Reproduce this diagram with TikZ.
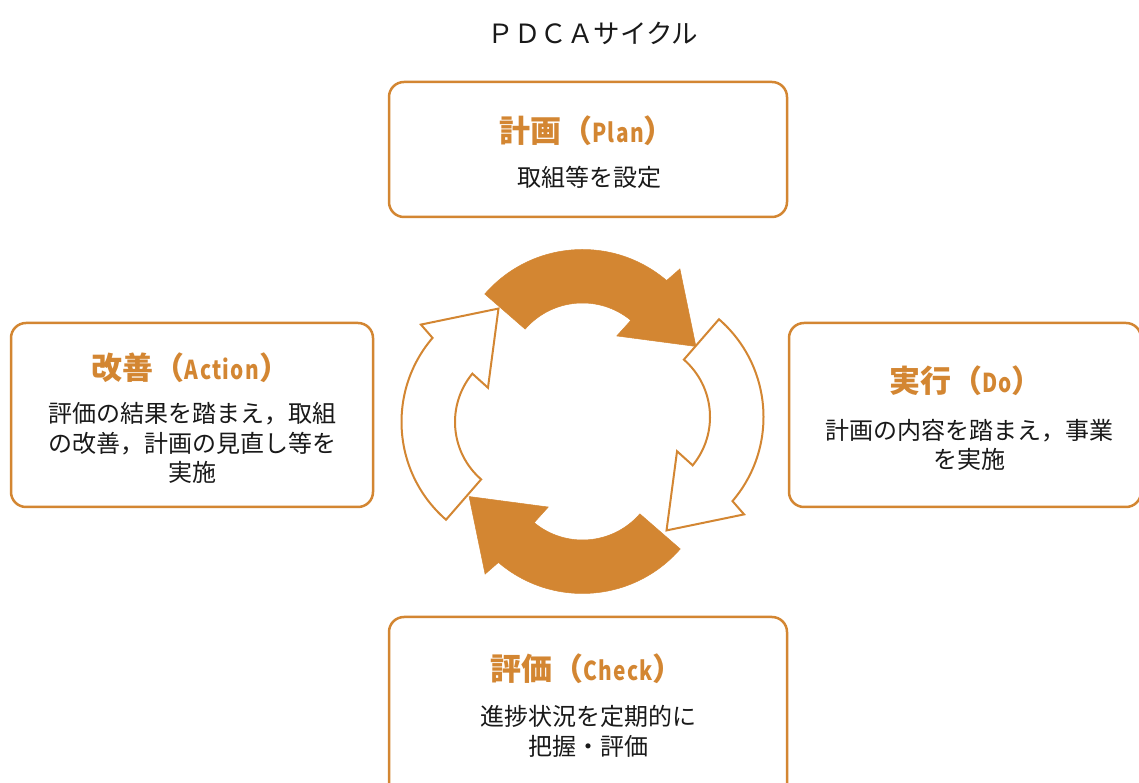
\documentclass[tikz,border=0pt]{standalone}
\usepackage{fontspec}
\setmainfont{Noto Sans CJK JP}
\newfontfamily\titlelatin{Noto Sans CJK JP}[FakeStretch=0.8, LetterSpace=5]
\newcommand{\lat}[1]{{\fontsize{26}{28}\titlelatin\bfseries #1}}
\definecolor{pdcaorange}{RGB}{211,134,50}
\definecolor{pdcatext}{RGB}{25,25,25}
\tikzset{
  phasebox/.style={draw=pdcaorange, line width=2.5pt, rounded corners=15pt, fill=white},
  phasetitle/.style={text=pdcaorange, font=\fontsize{31}{34}\selectfont\bfseries},
  phasebody/.style={text=pdcatext, align=center, font=\fontsize{24}{29.5}\selectfont},
  fullarrow/.style={fill=pdcaorange, draw=pdcaorange, line width=0.5pt},
  openarrow/.style={fill=white, draw=pdcaorange, line width=2pt}
}
\begin{document}
\begin{tikzpicture}[x=1pt, y=1pt]
  \useasboundingbox (0,0) rectangle (1139,783);
  % title
  \node[text=pdcatext, font=\fontsize{26.5}{30}\selectfont] (title) at (593,750) {ＰＤＣＡサイクル};

  % the four phases
  \node[phasebox, minimum width=398pt, minimum height=135pt] (plan) at (588,633.5) {};
  \node[phasetitle] (plantitle) at (587,652) {計画（\lat{Plan}）};
  \node[phasebody] (planbody) at (589,606) {取組等を設定};

  \node[phasebox, minimum width=352pt, minimum height=184pt] (do) at (965,368) {};
  \node[phasetitle] (dotitle) at (966,402) {実行（\lat{Do}）};
  \node[phasebody] (dobody) at (969,338) {計画の内容を踏まえ，事業\\を実施};

  \node[phasebox, minimum width=398pt, minimum height=183pt] (check) at (588,74.5) {};
  \node[phasetitle] (checktitle) at (587,114) {評価（\lat{Check}）};
  \node[phasebody] (checkbody) at (588,51.5) {進捗状況を定期的に\\把握・評価};

  \node[phasebox, minimum width=362pt, minimum height=184pt] (act) at (192,368) {};
  \node[phasetitle] (acttitle) at (191,415) {改善（\lat{Action}）};
  \node[phasebody] (actbody) at (192,340) {評価の結果を踏まえ，取組\\の改善，計画の見直し等を\\実施};

  % cycle arrows
  \foreach \cx/\cy/\rot/\look in {582.5/404/0/fullarrow, 634/366/-90/openarrow,
                                  582.5/319/180/fullarrow, 531/361/90/openarrow}{
    \begin{scope}[shift={(\cx,\cy)}, rotate=\rot]
      \draw[\look] (139:129.5pt) arc[start angle=139, end angle=49.5, radius=129.5pt]
        -- (48.5:147pt) -- (16:118pt) -- (51.5:55pt) -- (50.5:76pt)
        arc[start angle=50.5, end angle=139, radius=76pt] -- cycle;
    \end{scope}
  }
\end{tikzpicture}
\end{document}
